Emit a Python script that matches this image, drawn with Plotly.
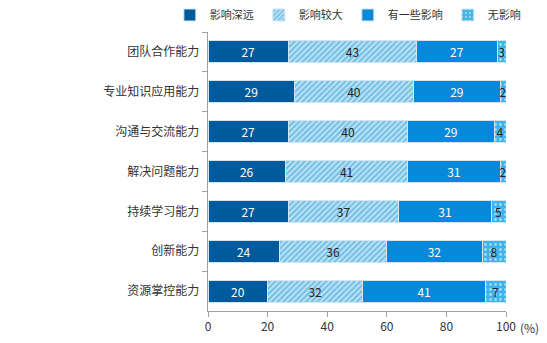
import plotly.graph_objects as go

categories = ["团队合作能力", "专业知识应用能力", "沟通与交流能力", "解决问题能力", "持续学习能力", "创新能力", "资源掌控能力"]
series_names = ["影响深远", "影响较大", "有一些影响", "无影响"]
v_deep = [27, 29, 27, 26, 27, 24, 20]
v_large = [43, 40, 40, 41, 37, 36, 32]
v_some = [27, 29, 29, 31, 31, 32, 41]
v_none = [3, 2, 4, 2, 5, 8, 7]

font = "Noto Sans CJK SC"
fig = go.Figure()
line = dict(color="#D6E4EE", width=1)
common = dict(orientation="h", textposition="inside", insidetextanchor="middle",
              textangle=0, constraintext="none")

fig.add_trace(go.Bar(y=categories, x=v_deep, name=series_names[0],
                     marker=dict(color="#005A9B", line=line),
                     text=v_deep, textfont=dict(color="white", size=12, family=font), **common))
fig.add_trace(go.Bar(y=categories, x=v_large, name=series_names[1],
                     marker=dict(color="#C4E7F7", line=line,
                                 pattern=dict(shape="/", fgcolor="#2596D3", bgcolor="#C4E7F7", size=4, solidity=0.55)),
                     text=v_large, textfont=dict(color="#222222", size=12, family=font), **common))
fig.add_trace(go.Bar(y=categories, x=v_some, name=series_names[2],
                     marker=dict(color="#0689DB", line=line),
                     text=v_some, textfont=dict(color="white", size=12, family=font), **common))
fig.add_trace(go.Bar(y=categories, x=v_none, name=series_names[3],
                     marker=dict(color="#3FB4EA", line=line,
                                 pattern=dict(shape=".", fgcolor="white", bgcolor="#3FB4EA", size=5, solidity=0.25)),
                     text=v_none, textfont=dict(color="#222222", size=12, family=font), **common))

fig.update_layout(
    barmode="stack", bargap=0.45,
    width=547, height=343,
    margin=dict(l=208, r=41, t=32, b=32, autoexpand=False),
    paper_bgcolor="white", plot_bgcolor="white",
    font=dict(family=font, size=12, color="#333333"),
    legend=dict(orientation="h", x=-0.128, xanchor="left", y=1.061, yanchor="middle",
                font=dict(size=11, family=font, color="#333333"), traceorder="normal",
                itemwidth=30, tracegroupgap=0),
    xaxis=dict(range=[0, 100], tickvals=[0, 20, 40, 60, 80, 100], showgrid=False,
               showline=True, linecolor="#A0A0A0", linewidth=1, ticks="outside",
               ticklen=5, tickcolor="#A0A0A0", tickfont=dict(size=12, color="#333333"),
               fixedrange=True),
    yaxis=dict(autorange="reversed", showline=True, linecolor="#A0A0A0", linewidth=1,
               ticks="outside", ticklen=5, tickcolor="#A0A0A0", tickson="boundaries",
               tickfont=dict(size=12, color="#333333"), ticksuffix="  ", showgrid=False),
)
fig.add_annotation(x=1.0, xref="paper", xanchor="left", xshift=12, y=0, yref="paper",
                   yshift=-16, yanchor="middle", text="(%)", showarrow=False,
                   font=dict(size=12, color="#333333", family=font))

fig.write_html("out.html")
